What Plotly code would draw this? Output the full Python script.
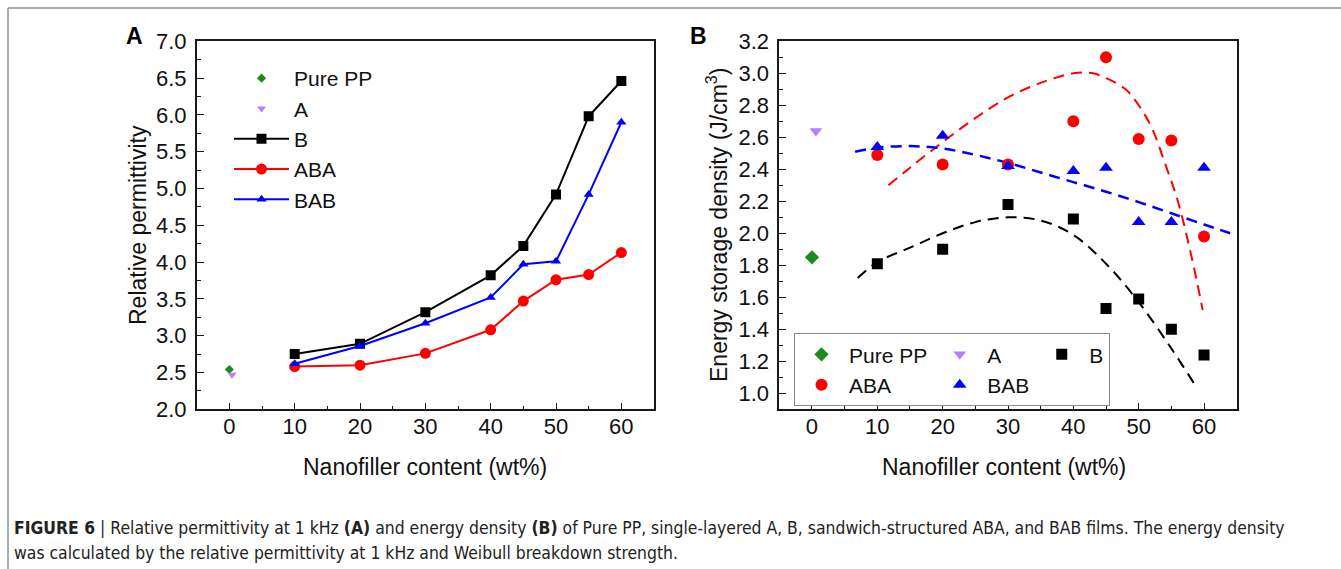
import plotly.graph_objects as go

W, H = 1341, 569

# ---------------- data ----------------
x_cont = [10, 20, 30, 40, 45, 50, 55, 60]

# Panel A: relative permittivity
a_pure_x = [0]
a_pure_y = [2.54]
a_A_x = [0.4]
a_A_y = [2.47]
a_B = [2.75, 2.89, 3.32, 3.82, 4.22, 4.92, 5.98, 6.46]
a_ABA = [2.58, 2.60, 2.76, 3.08, 3.47, 3.76, 3.83, 4.13]
a_BAB = [2.62, 2.86, 3.17, 3.52, 3.97, 4.01, 4.92, 5.90]

# Panel B: energy storage density
b_pure_x = [0]
b_pure_y = [1.85]
b_A_x = [0.6]
b_A_y = [2.64]
b_B = [1.81, 1.90, 2.18, 2.09, 1.53, 1.59, 1.40, 1.24]
b_ABA = [2.49, 2.43, 2.43, 2.70, 3.10, 2.59, 2.58, 1.98]
b_BAB = [2.54, 2.61, 2.42, 2.39, 2.41, 2.07, 2.07, 2.41]

# dashed fit curves
fitB_x = [7, 10, 15, 20, 25, 30, 35, 40, 45, 50, 55, 58.5]
fitB_y = [1.72, 1.82, 1.91, 2.00, 2.07, 2.10, 2.08, 1.99, 1.81, 1.57, 1.28, 1.06]
fitABA_x = [11.7, 15, 20, 25, 30, 35, 40, 43, 45, 48, 50, 52, 54, 56, 58, 59.8]
fitABA_y = [2.30, 2.41, 2.57, 2.72, 2.85, 2.94, 3.00, 3.00, 2.97, 2.90, 2.80, 2.66, 2.44, 2.20, 1.87, 1.52]
fitBAB_x = [6.6, 10, 15, 20, 25, 30, 35, 40, 45, 50, 55, 60, 64]
fitBAB_y = [2.51, 2.535, 2.545, 2.53, 2.49, 2.44, 2.38, 2.32, 2.26, 2.195, 2.125, 2.055, 2.0]

x_ticks = [0, 10, 20, 30, 40, 50, 60]

# ---------------- styles ----------------
GREEN = "#1d8a1d"
PURPLE = "#b380ff"
BLACK = "#000000"
RED = "#ff0000"
BLUE = "#0000ff"
FONT = "Liberation Sans, Arial, sans-serif"

fig = go.Figure()

# ---- Panel A ----
fig.add_trace(go.Scatter(x=a_pure_x, y=a_pure_y, mode="markers", name="Pure PP",
                         marker=dict(symbol="diamond", size=7, color=GREEN),
                         xaxis="x", yaxis="y", legend="legend"))
fig.add_trace(go.Scatter(x=a_A_x, y=a_A_y, mode="markers", name="A",
                         marker=dict(symbol="triangle-down", size=8, color=PURPLE),
                         xaxis="x", yaxis="y", legend="legend"))
fig.add_trace(go.Scatter(x=x_cont, y=a_B, mode="lines+markers", name="B",
                         line=dict(color=BLACK, width=2),
                         marker=dict(symbol="square", size=10, color=BLACK),
                         xaxis="x", yaxis="y", legend="legend"))
fig.add_trace(go.Scatter(x=x_cont, y=a_ABA, mode="lines+markers", name="ABA",
                         line=dict(color=RED, width=2),
                         marker=dict(symbol="circle", size=11, color=RED),
                         xaxis="x", yaxis="y", legend="legend"))
fig.add_trace(go.Scatter(x=x_cont, y=a_BAB, mode="lines+markers", name="BAB",
                         line=dict(color=BLUE, width=2),
                         marker=dict(symbol="triangle-up", size=9, color=BLUE),
                         xaxis="x", yaxis="y", legend="legend"))

# ---- Panel B: fit curves ----
DASH = "11px,7px"
fig.add_trace(go.Scatter(x=fitB_x, y=fitB_y, mode="lines", showlegend=False,
                         line=dict(color=BLACK, width=2, dash=DASH, shape="spline"),
                         xaxis="x2", yaxis="y2", hoverinfo="skip"))
fig.add_trace(go.Scatter(x=fitABA_x, y=fitABA_y, mode="lines", showlegend=False,
                         line=dict(color=RED, width=2, dash=DASH, shape="spline"),
                         xaxis="x2", yaxis="y2", hoverinfo="skip"))
fig.add_trace(go.Scatter(x=fitBAB_x, y=fitBAB_y, mode="lines", showlegend=False,
                         line=dict(color=BLUE, width=2.5, dash=DASH, shape="spline"),
                         xaxis="x2", yaxis="y2", hoverinfo="skip"))

# ---- Panel B: points ----
fig.add_trace(go.Scatter(x=b_pure_x, y=b_pure_y, mode="markers", name="Pure PP",
                         marker=dict(symbol="diamond", size=11, color=GREEN),
                         xaxis="x2", yaxis="y2", legend="legend2", legendgroup="g1"))
fig.add_trace(go.Scatter(x=b_A_x, y=b_A_y, mode="markers", name="A",
                         marker=dict(symbol="triangle-down", size=11, color=PURPLE),
                         xaxis="x2", yaxis="y2", legend="legend2", legendgroup="g2"))
fig.add_trace(go.Scatter(x=x_cont, y=b_B, mode="markers", name="B",
                         marker=dict(symbol="square", size=11, color=BLACK),
                         xaxis="x2", yaxis="y2", legend="legend2", legendgroup="g3"))
fig.add_trace(go.Scatter(x=x_cont, y=b_ABA, mode="markers", name="ABA",
                         marker=dict(symbol="circle", size=12, color=RED),
                         xaxis="x2", yaxis="y2", legend="legend2", legendgroup="g1"))
fig.add_trace(go.Scatter(x=x_cont, y=b_BAB, mode="markers", name="BAB",
                         marker=dict(symbol="triangle-up", size=12, color=BLUE),
                         xaxis="x2", yaxis="y2", legend="legend2", legendgroup="g2"))


def px(v):
    return v / W


def py(v):
    return 1 - v / H


Y_DOM = [py(409.3), py(41.3)]
common_axis = dict(showline=True, linecolor="#1a1a1a", linewidth=1.6, mirror=True,
                   ticks="inside", ticklen=7, tickwidth=1.3, tickcolor="#1a1a1a",
                   showgrid=False, zeroline=False, automargin=False,
                   tickfont=dict(family=FONT, size=22, color="#111"))

xa = dict(common_axis, range=[-5, 65], tickvals=x_ticks, ticklabelstandoff=-4,
          minor=dict(dtick=5, tick0=0, ticks="inside", ticklen=4, tickwidth=1.2, tickcolor="#1a1a1a"))

fig.update_layout(
    width=W, height=H,
    margin=dict(l=0, r=0, t=0, b=0, autoexpand=False),
    paper_bgcolor="white", plot_bgcolor="white",
    font=dict(family=FONT, color="#111"),
    showlegend=True,
    xaxis=dict(xa, domain=[px(196.7), px(654)], anchor="y"),
    yaxis=dict(common_axis, domain=Y_DOM, anchor="x", range=[2, 7], dtick=0.5, tick0=2,
               tickformat=".1f", ticklabelstandoff=4,
               minor=dict(dtick=0.25, tick0=2, ticks="inside", ticklen=4, tickwidth=1.2, tickcolor="#1a1a1a")),
    xaxis2=dict(xa, domain=[px(779.3), px(1236.7)], anchor="y2"),
    yaxis2=dict(common_axis, domain=Y_DOM, anchor="x2", range=[0.9, 3.2], dtick=0.2, tick0=1.0,
                tickformat=".1f", ticklabelstandoff=4,
                minor=dict(dtick=0.1, tick0=1.0, ticks="inside", ticklen=4, tickwidth=1.2, tickcolor="#1a1a1a")),
    legend=dict(x=px(229), y=py(58), xanchor="left", yanchor="top",
                bgcolor="rgba(0,0,0,0)", borderwidth=0,
                font=dict(family=FONT, size=21, color="#111"),
                itemwidth=55, tracegroupgap=0),
    legend2=dict(x=px(794), y=py(333), xanchor="left", yanchor="top",
                 orientation="h", traceorder="grouped", tracegroupgap=0, itemwidth=45,
                 bgcolor="white", bordercolor="#8a8a8a", borderwidth=1.2,
                 font=dict(family=FONT, size=21, color="#111")),
)

ann = []
# panel labels
ann.append(dict(text="<b>A</b>", x=px(134.5), y=py(36), xref="paper", yref="paper",
                xanchor="center", yanchor="middle",
                showarrow=False, font=dict(family=FONT, size=23, color="black")))
ann.append(dict(text="<b>B</b>", x=px(698), y=py(35.5), xref="paper", yref="paper",
                xanchor="center", yanchor="middle",
                showarrow=False, font=dict(family=FONT, size=23, color="black")))
# axis titles
ann.append(dict(text="Nanofiller content (wt%)", x=px(425.3), y=py(467), xref="paper", yref="paper",
                xanchor="center", yanchor="middle",
                showarrow=False, font=dict(family=FONT, size=23, color="#111")))
ann.append(dict(text="Nanofiller content (wt%)", x=px(1004), y=py(467), xref="paper", yref="paper",
                xanchor="center", yanchor="middle",
                showarrow=False, font=dict(family=FONT, size=23, color="#111")))
ann.append(dict(text="Relative permittivity", x=px(138), y=py(225), xref="paper", yref="paper",
                xanchor="center", yanchor="middle",
                showarrow=False, textangle=-90, font=dict(family=FONT, size=23, color="#111")))
ann.append(dict(text="Energy storage density (J/cm<sup>3</sup>)", x=px(717), y=py(225),
                xref="paper", yref="paper", xanchor="center", yanchor="middle",
                showarrow=False, textangle=-90, font=dict(family=FONT, size=23, color="#111")))
# caption
CAP_FONT = "Liberation Sans Narrow, DejaVu Sans Condensed, Arial Narrow, sans-serif"
ann.append(dict(text="<b>FIGURE 6</b> | Relative permittivity at 1 kHz <b>(A)</b> and energy density <b>(B)</b> of Pure PP, "
                     "single-layered A, B, sandwich-structured ABA, and BAB films. The energy density",
                x=px(12), y=py(528), xref="paper", yref="paper", xanchor="left", yanchor="middle",
                showarrow=False, font=dict(family=CAP_FONT, size=17.4, color="#222")))
ann.append(dict(text="was calculated by the relative permittivity at 1 kHz and Weibull breakdown strength.",
                x=px(12), y=py(553), xref="paper", yref="paper", xanchor="left", yanchor="middle",
                showarrow=False, font=dict(family=CAP_FONT, size=17.4, color="#222")))
fig.update_layout(annotations=ann)

# outer frame lines (top and left)
fig.update_layout(shapes=[
    dict(type="line", xref="paper", yref="paper", x0=px(8), x1=1, y0=py(8), y1=py(8),
         line=dict(color="#8f8f8f", width=1.5)),
    dict(type="line", xref="paper", yref="paper", x0=px(8), x1=px(8), y0=py(8), y1=0,
         line=dict(color="#8f8f8f", width=1.5)),
])

fig.write_html("out.html")
